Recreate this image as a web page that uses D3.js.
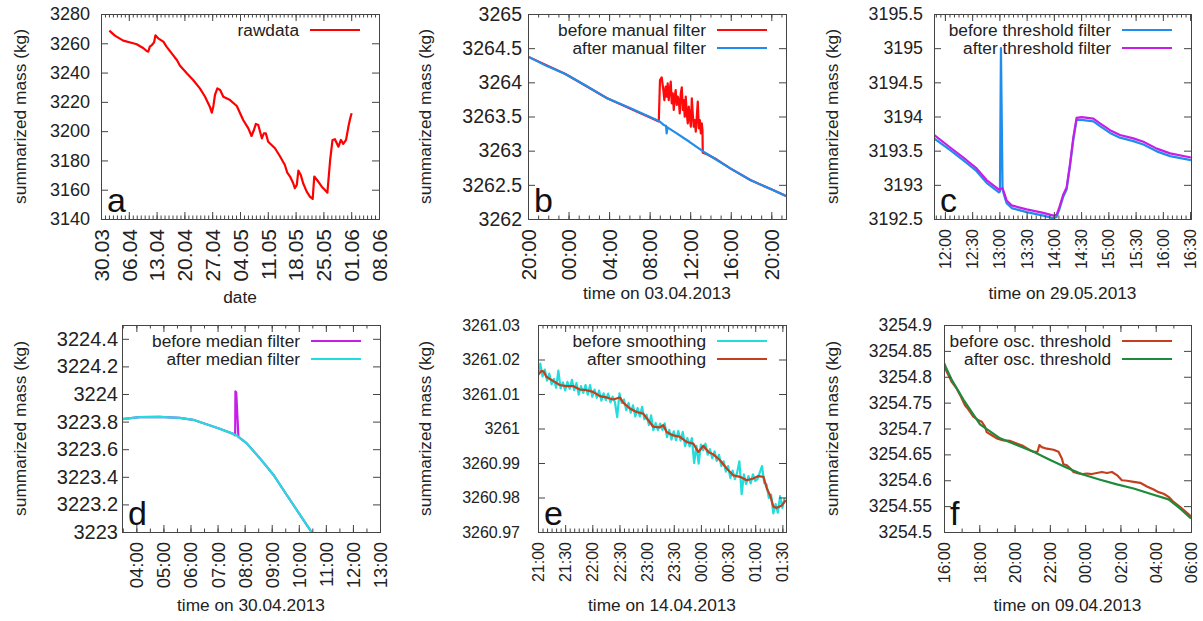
<!DOCTYPE html>
<html>
<head>
<meta charset="utf-8">
<script src="https://cdn.jsdelivr.net/npm/d3@7"></script>
<style>
  body { margin: 0; background: #fff; }
  svg text { font-family: "Liberation Sans", Arial, sans-serif; fill: #222; }
</style>
</head>
<body>
<svg id="chart" width="1203" height="621"></svg>
<script>
// ---------- panel a: raw data (days since 30.03.2013) ----------
const rawDays = [2.1, 3.5, 5.6, 8.1, 9.0, 10.7, 11.5, 11.9, 12.3, 12.8, 13.2, 13.4, 13.7, 14.4, 15.7, 16.5,
  17.8, 19.1, 19.9, 21.6, 23.2, 24.9, 26.2, 27.4, 27.9, 28.3, 28.7, 29.3, 30.0, 30.8, 32.5, 34.2, 35.8,
  37.1, 37.9, 38.5, 39.0, 39.6, 40.5, 41.0, 41.5, 42.1, 43.8, 45.1, 46.3, 46.9, 47.6, 48.4, 48.8, 49.3,
  49.7, 50.3, 50.9, 51.8, 52.6, 53.3, 53.7, 54.7, 55.6, 56.4, 57.0, 57.7, 58.3, 58.9, 59.8, 60.4, 61.0,
  61.7, 62.3, 62.7, 63.1];
const rawMass = [3268.6, 3265.2, 3261.8, 3260.0, 3259.3, 3256.6, 3254.7, 3254.3, 3257.7, 3258.8, 3260.0,
  3261.1, 3265.4, 3263.4, 3261.1, 3257.7, 3253.1, 3248.6, 3244.7, 3239.5, 3234.9, 3229.2, 3223.5, 3216.7,
  3212.6, 3217.2, 3224.7, 3229.2, 3228.1, 3223.5, 3221.2, 3217.2, 3207.6, 3201.9, 3196.7, 3200.8, 3204.9,
  3204.2, 3195.1, 3198.5, 3198.5, 3192.8, 3188.3, 3182.7, 3176.9, 3171.7, 3169.0, 3164.4, 3161.0, 3163.3,
  3173.1, 3170.1, 3164.4, 3158.7, 3155.3, 3153.7, 3169.0, 3165.6, 3162.1, 3159.8, 3158.0, 3180.3, 3194.0,
  3194.5, 3189.4, 3194.0, 3191.3, 3194.0, 3203.1, 3208.1, 3212.2];
const aTicks = [0, 7, 14, 21, 28, 35, 42, 49, 56, 63, 70];
const aLabels = ['30.03', '06.04', '13.04', '20.04', '27.04', '04.05', '11.05', '18.05', '25.05', '01.06', '08.06'];
const aYTicks = [3140, 3160, 3180, 3200, 3220, 3240, 3260, 3280];

// ---------- panel b: manual filter (hours since 20:00 on 02.04.) ----------
const beforeManualT = [0, 3.69, 7.81, 11.87, 12.9, 13.02, 13.19, 13.35, 13.45, 13.58, 13.68, 13.78, 13.88,
  13.98, 14.08, 14.18, 14.28, 14.38, 14.47, 14.57, 14.67, 14.77, 14.87, 14.97, 15.07, 15.17, 15.27, 15.36,
  15.46, 15.56, 15.66, 15.76, 15.86, 15.96, 16.06, 16.16, 16.25, 16.35, 16.45, 16.55, 16.65, 16.75, 16.85,
  16.95, 17.05, 17.14, 17.21, 17.24, 17.6, 18.63, 19.95, 21.93, 24.0, 25.45];
const beforeManualV = [3264.376, 3264.122, 3263.766, 3263.498, 3263.428, 3264.034, 3264.073, 3263.888,
  3263.741, 3263.937, 3263.790, 3263.985, 3263.741, 3263.888, 3264.010, 3263.693, 3263.839, 3263.595,
  3263.790, 3263.888, 3263.668, 3263.790, 3263.741, 3263.546, 3263.839, 3263.927, 3263.595, 3263.741,
  3263.498, 3263.790, 3263.546, 3263.400, 3263.644, 3263.498, 3263.351, 3263.766, 3263.546, 3263.351,
  3263.449, 3263.278, 3263.498, 3263.717, 3263.327, 3263.449, 3263.254, 3263.400, 3263.302, 3262.971,
  3262.950, 3262.870, 3262.741, 3262.571, 3262.434, 3262.337];
const afterManualT = [0, 1.81, 3.69, 5.77, 7.81, 10.06, 11.87, 12.96, 13.35, 13.62, 13.68, 13.75, 14.67,
  15.92, 17.31, 18.63, 19.95, 21.93, 24.0, 25.45];
const afterManualV = [3264.376, 3264.244, 3264.122, 3263.946, 3263.766, 3263.625, 3263.505, 3263.430,
  3263.380, 3263.362, 3263.254, 3263.340, 3263.254, 3263.130, 3262.985, 3262.863, 3262.741, 3262.571,
  3262.434, 3262.337];
const bTicks = [0, 4, 8, 12, 16, 20, 24];
const bLabels = ['20:00', '00:00', '04:00', '08:00', '12:00', '16:00', '20:00'];
const bYTicks = [3262, 3262.5, 3263, 3263.5, 3264, 3264.5, 3265];

// ---------- panel c: threshold filter (minutes since 12:00 on 29.05.) ----------
const beforeThrT = [-12, 5.5, 23.9, 34.9, 45.9, 59.5, 60.6, 61.7, 63.5, 66.1, 68, 73.5, 90, 108.4, 119.4,
  123, 126, 130.4, 134, 137.7, 141.4, 145, 150.6, 163.5, 170.8, 181.8, 192.8, 207.5, 218.6, 233.3, 248, 271];
const beforeThrV = [3193.68, 3193.51, 3193.32, 3193.20, 3193.03, 3192.89, 3192.90, 3195.00, 3192.93,
  3192.81, 3192.73, 3192.66, 3192.60, 3192.55, 3192.51, 3192.53, 3192.64, 3192.83, 3192.93, 3193.27,
  3193.66, 3193.95, 3193.95, 3193.93, 3193.86, 3193.76, 3193.69, 3193.64, 3193.59, 3193.49, 3193.42, 3193.36];
const afterThrT = [-12, 5.5, 23.9, 34.9, 45.9, 59.5, 63.5, 66.1, 68, 73.5, 90, 108.4, 119.4, 123, 126,
  130.4, 134, 137.7, 141.4, 145, 150.6, 163.5, 170.8, 181.8, 192.8, 207.5, 218.6, 233.3, 248, 271];
const afterThrV = [3193.73, 3193.55, 3193.36, 3193.24, 3193.07, 3192.93, 3192.95, 3192.85, 3192.77,
  3192.70, 3192.64, 3192.59, 3192.55, 3192.56, 3192.67, 3192.86, 3192.96, 3193.30, 3193.69, 3193.98,
  3193.99, 3193.97, 3193.90, 3193.80, 3193.73, 3193.68, 3193.63, 3193.53, 3193.46, 3193.40];
const cTicks = [0, 30, 60, 90, 120, 150, 180, 210, 240, 270];
const cLabels = ['12:00', '12:30', '13:00', '13:30', '14:00', '14:30', '15:00', '15:30', '16:00', '16:30'];
const cYTicks = [3192.5, 3193, 3193.5, 3194, 3194.5, 3195, 3195.5];

// ---------- panel d: median filter (hours on 30.04.) ----------
const beforeMedT = [3.47, 4.12, 4.86, 5.6, 6.1, 6.59, 7.08, 7.58, 7.65, 7.66, 7.69, 7.77, 8.07, 8.56, 9.06,
  9.55, 10.04, 10.47];
const beforeMedV = [3223.818, 3223.832, 3223.834, 3223.827, 3223.813, 3223.781, 3223.748, 3223.711,
  3223.700, 3224.020, 3224.010, 3223.690, 3223.644, 3223.535, 3223.415, 3223.270, 3223.126, 3223.000];
const afterMedT = [3.47, 4.12, 4.86, 5.6, 6.1, 6.59, 7.08, 7.58, 7.72, 8.07, 8.56, 9.06, 9.55, 10.04, 10.47];
const afterMedV = [3223.818, 3223.832, 3223.834, 3223.827, 3223.813, 3223.781, 3223.748, 3223.711,
  3223.697, 3223.644, 3223.535, 3223.415, 3223.270, 3223.126, 3223.000];
const dTicks = [4, 5, 6, 7, 8, 9, 10, 11, 12, 13];
const dLabels = ['04:00', '05:00', '06:00', '07:00', '08:00', '09:00', '10:00', '11:00', '12:00', '13:00'];
const dYTicks = [3223, 3223.2, 3223.4, 3223.6, 3223.8, 3224, 3224.2, 3224.4];

// ---------- panel e: smoothing (minutes since 21:00 on 14.04.) ----------
const beforeSmoothT = [0, 2.5, 5, 7.5, 10, 12.5, 15, 17.5, 20, 22.5, 25, 27.5, 30, 32.5, 35, 37.5, 40,
  42.5, 45, 47.5, 50, 52.5, 55, 57.5, 60, 62.5, 65, 67.5, 70, 72.5, 75, 77.5, 80, 82.5, 85, 87.5, 90, 92.5,
  95, 97.5, 100, 102.5, 105, 107.5, 110, 112.5, 115, 117.5, 120, 122.5, 125, 127.5, 130, 132.5, 135, 137.5,
  140, 142.5, 145, 147.5, 150, 152.5, 155, 157.5, 160, 162.5, 165, 167.5, 170, 172.5, 175, 177.5, 180,
  182.5, 185, 187.5, 190, 192.5, 195, 197.5, 200, 202.5, 205, 207.5, 210, 212.5, 215, 217.5, 220, 222.5,
  225, 227.5, 230, 232.5, 235, 237.5, 240, 242.5, 245, 247.5, 250, 252.5, 255, 257.5, 260, 262.5, 265,
  267.5, 270, 272.5];
const beforeSmoothV = [3261.0160, 3261.0188, 3261.0151, 3261.0171, 3261.0139, 3261.0159, 3261.0128,
  3261.0144, 3261.0118, 3261.0168, 3261.0116, 3261.0134, 3261.0110, 3261.0135, 3261.0115, 3261.0141,
  3261.0111, 3261.0132, 3261.0098, 3261.0123, 3261.0103, 3261.0126, 3261.0098, 3261.0126, 3261.0092,
  3261.0113, 3261.0089, 3261.0110, 3261.0081, 3261.0102, 3261.0082, 3261.0101, 3261.0076, 3261.0092,
  3261.0076, 3261.0033, 3261.0102, 3261.0074, 3261.0084, 3261.0053, 3261.0074, 3261.0046, 3261.0067,
  3261.0035, 3261.0059, 3261.0035, 3261.0063, 3261.0027, 3261.0040, 3261.0010, 3261.0038, 3260.9995,
  3261.0016, 3260.9995, 3261.0014, 3260.9996, 3261.0015, 3260.9975, 3260.9996, 3260.9968, 3260.9992,
  3260.9966, 3260.9993, 3260.9965, 3260.9990, 3260.9949, 3260.9972, 3260.9948, 3260.9972, 3260.9900,
  3260.9950, 3260.9898, 3260.9953, 3260.9937, 3260.9956, 3260.9924, 3260.9940, 3260.9914, 3260.9934,
  3260.9906, 3260.9924, 3260.9891, 3260.9905, 3260.9875, 3260.9891, 3260.9857, 3260.9878, 3260.9853,
  3260.9872, 3260.9905, 3260.9810, 3260.9867, 3260.9839, 3260.9862, 3260.9841, 3260.9867, 3260.9848,
  3260.9853, 3260.9872, 3260.9891, 3260.9842, 3260.9838, 3260.9799, 3260.9808, 3260.9754, 3260.9781,
  3260.9756, 3260.9804, 3260.9770, 3260.9800];
const afterSmoothT = [0, 3.7, 6.3, 9.2, 16.6, 24, 31.4, 38.7, 46.1, 53.5, 60.9, 68.3, 75.6, 83, 90.4, 94.1,
  101.5, 108.9, 116.2, 121.8, 127.3, 134.7, 138.4, 142.1, 149.4, 156.8, 164.2, 171.6, 177.1, 182.7, 188.2,
  193.7, 201.1, 208.5, 215.9, 223.2, 230.6, 238, 243.5, 249.1, 252.8, 256.5, 260.1, 263.8, 269.4, 273.8];
const afterSmoothV = [3261.0155, 3261.0167, 3261.0165, 3261.0150, 3261.0138, 3261.0126, 3261.0123,
  3261.0123, 3261.0113, 3261.0111, 3261.0106, 3261.0094, 3261.0090, 3261.0084, 3261.0090, 3261.0075,
  3261.0058, 3261.0048, 3261.0043, 3261.0024, 3261.0005, 3261.0003, 3261.0010, 3260.9990, 3260.9980,
  3260.9976, 3260.9961, 3260.9956, 3260.9932, 3260.9950, 3260.9932, 3260.9925, 3260.9908, 3260.9884,
  3260.9864, 3260.9860, 3260.9850, 3260.9855, 3260.9862, 3260.9860, 3260.9826, 3260.9806, 3260.9773,
  3260.9770, 3260.9777, 3260.9792];
const eTicks = [0, 30, 60, 90, 120, 150, 180, 210, 240, 270];
const eLabels = ['21:00', '21:30', '22:00', '22:30', '23:00', '23:30', '00:00', '00:30', '01:00', '01:30'];
const eYTicks = [3260.97, 3260.98, 3260.99, 3261, 3261.01, 3261.02, 3261.03];

// ---------- panel f: oscillation threshold (hours since 16:00 on 09.04.) ----------
const beforeOscT = [0, 0.15, 0.44, 0.72, 0.91, 1.19, 1.38, 1.66, 1.95, 2.14, 2.33, 2.42, 2.71, 2.99, 3.37,
  3.75, 4.12, 4.50, 4.88, 5.07, 5.30, 5.41, 5.54, 5.83, 6.21, 6.49, 6.68, 6.77, 6.96, 7.15, 7.34, 7.62, 7.87,
  8.10, 8.38, 8.66, 8.95, 9.23, 9.52, 9.80, 10.08, 10.37, 10.75, 11.12, 11.50, 11.88, 12.16, 12.45, 12.73,
  13.01, 13.39, 13.77, 14.0];
const beforeOscV = [3254.826, 3254.810, 3254.790, 3254.777, 3254.765, 3254.745, 3254.737, 3254.723,
  3254.716, 3254.713, 3254.703, 3254.693, 3254.687, 3254.681, 3254.677, 3254.676, 3254.671, 3254.666,
  3254.658, 3254.655, 3254.655, 3254.668, 3254.664, 3254.661, 3254.659, 3254.655, 3254.642, 3254.631,
  3254.629, 3254.623, 3254.616, 3254.613, 3254.612, 3254.613, 3254.612, 3254.614, 3254.616, 3254.614,
  3254.616, 3254.610, 3254.600, 3254.599, 3254.597, 3254.595, 3254.588, 3254.582, 3254.577, 3254.574,
  3254.568, 3254.558, 3254.548, 3254.537, 3254.530];
const afterOscT = [0, 0.44, 1.10, 2.04, 3.18, 4.12, 5.07, 6.02, 6.96, 7.87, 8.85, 9.80, 10.75, 11.69, 12.73,
  13.39, 14.0];
const afterOscV = [3254.826, 3254.794, 3254.756, 3254.708, 3254.681, 3254.668, 3254.655, 3254.639,
  3254.624, 3254.611, 3254.601, 3254.592, 3254.584, 3254.574, 3254.563, 3254.545, 3254.526];
const fTicks = [0, 2, 4, 6, 8, 10, 12, 14];
const fLabels = ['16:00', '18:00', '20:00', '22:00', '00:00', '02:00', '04:00', '06:00'];
const fYTicks = [3254.5, 3254.55, 3254.6, 3254.65, 3254.7, 3254.75, 3254.8, 3254.85, 3254.9];

// ---------- layout ----------
const svg = d3.select('#chart');
const FONT = 17.3;

// xFont / yFont: tick label sizes differ a little between the panels of the reference
const panels = [
  { id: 'a', left: 101, right: 379, top: 14, bottom: 219, xDomain: [0, 70], yDomain: [3140, 3280],
    xTicks: aTicks, xLabels: aLabels, xMinorStep: 1, yTicks: aYTicks, yFmt: d3.format('d'), yPad: 11,
    xFont: 21, yFont: 18, xTitle: 'date', xTitleY: 303, yTitleX: 20,
    series: [{ t: rawDays, v: rawMass, color: '#ff0000', name: 'rawdata' }] },
  { id: 'b', left: 528, right: 786, top: 14, bottom: 219, xDomain: [0, 25.45], yDomain: [3262, 3265],
    xTicks: bTicks, xLabels: bLabels, xMinorStep: 1, yTicks: bYTicks, yFmt: d3.format('.1~f'), yPad: 6,
    xFont: 20.5, yFont: 19.5, xTitle: 'time on 03.04.2013', xTitleY: 299, yTitleX: 425,
    series: [{ t: beforeManualT, v: beforeManualV, color: '#ff0a0a', name: 'before manual filter' },
             { t: afterManualT, v: afterManualV, color: '#1f8ded', name: 'after manual filter' }] },
  { id: 'c', left: 934, right: 1191, top: 14, bottom: 219, xDomain: [-12, 271], yDomain: [3192.5, 3195.5],
    xTicks: cTicks, xLabels: cLabels, xMinorStep: 5, yTicks: cYTicks, yFmt: d3.format('.1~f'), yPad: 11,
    xFont: 16, yFont: 17.8, xTitle: 'time on 29.05.2013', xTitleY: 299, yTitleX: 832,
    series: [{ t: beforeThrT, v: beforeThrV, color: '#1f8ded', name: 'before threshold filter' },
             { t: afterThrT, v: afterThrV, color: '#c61ee8', name: 'after threshold filter' }] },
  { id: 'd', left: 122, right: 380, top: 325, bottom: 532, xDomain: [3.47, 13.0], yDomain: [3223, 3224.5],
    xTicks: dTicks, xLabels: dLabels, xMinorStep: 0.5, yTicks: dYTicks, yFmt: d3.format('.1~f'), yPad: 4,
    xFont: 18.5, yFont: 20, xTitle: 'time on 30.04.2013', xTitleY: 611, yTitleX: 20,
    series: [{ t: beforeMedT, v: beforeMedV, color: '#c61ee8', name: 'before median filter' },
             { t: afterMedT, v: afterMedV, color: '#22dddd', name: 'after median filter' }] },
  { id: 'e', left: 538, right: 786, top: 325, bottom: 532, xDomain: [0, 274], yDomain: [3260.97, 3261.03],
    xTicks: eTicks, xLabels: eLabels, xMinorStep: 5, yTicks: eYTicks, yFmt: d3.format('.2~f'), yPad: 18,
    xFont: 16, yFont: 16, xTitle: 'time on 14.04.2013', xTitleY: 611, yTitleX: 425,
    series: [{ t: beforeSmoothT, v: beforeSmoothV, color: '#22dddd', name: 'before smoothing' },
             { t: afterSmoothT, v: afterSmoothV, color: '#c4401c', name: 'after smoothing' }] },
  { id: 'f', left: 944, right: 1191, top: 325, bottom: 532, xDomain: [0, 14], yDomain: [3254.5, 3254.9],
    xTicks: fTicks, xLabels: fLabels, xMinorStep: 1, yTicks: fYTicks, yFmt: d3.format('.2~f'), yPad: 12,
    xFont: 16.5, yFont: 17.5, xTitle: 'time on 09.04.2013', xTitleY: 611, yTitleX: 832,
    series: [{ t: beforeOscT, v: beforeOscV, color: '#c4401c', name: 'before osc. threshold' },
             { t: afterOscT, v: afterOscV, color: '#1e8a3c', name: 'after osc. threshold' }] }
];

function styleAxis(sel, size) {
  sel.attr('font-size', size || FONT)
    .attr('font-family', '"Liberation Sans", Arial, sans-serif')
    .attr('color', '#444');
  sel.select('.domain').remove();
}

function drawPanel(p) {
  const g = svg.append('g').attr('class', 'panel-' + p.id);
  const x = d3.scaleLinear().domain(p.xDomain).range([p.left, p.right]);
  const y = d3.scaleLinear().domain(p.yDomain).range([p.bottom, p.top]);

  // clip lines to the plot box
  svg.append('clipPath').attr('id', 'clip-' + p.id)
    .append('rect')
    .attr('x', p.left).attr('y', p.top)
    .attr('width', p.right - p.left).attr('height', p.bottom - p.top);

  const line = d3.line().x(d => x(d[0])).y(d => y(d[1]));
  p.series.forEach(s => {
    g.append('path')
      .datum(s.t.map((t, i) => [t, s.v[i]]))
      .attr('clip-path', `url(#clip-${p.id})`)
      .attr('fill', 'none')
      .attr('stroke', s.color)
      .attr('stroke-width', 2.2)
      .attr('stroke-linejoin', 'round')
      .attr('d', line);
  });

  // minor ticks, bottom and top
  const minor = d3.range(Math.ceil(p.xDomain[0] / p.xMinorStep) * p.xMinorStep, p.xDomain[1] + 1e-9, p.xMinorStep);
  g.append('g').attr('transform', `translate(0,${p.bottom})`)
    .call(d3.axisBottom(x).tickValues(minor).tickSize(-3.5).tickFormat(''))
    .call(styleAxis);
  g.append('g').attr('transform', `translate(0,${p.top})`)
    .call(d3.axisTop(x).tickValues(minor).tickSize(-3.5).tickFormat(''))
    .call(styleAxis);

  // major x ticks with rotated labels
  const xb = g.append('g').attr('transform', `translate(0,${p.bottom})`)
    .call(d3.axisBottom(x).tickValues(p.xTicks).tickFormat((d, i) => p.xLabels[i])
      .tickSizeInner(-7).tickSizeOuter(0).tickPadding(0))
    .call(styleAxis, p.xFont);
  xb.selectAll('text')
    .attr('transform', 'rotate(-90)')
    .attr('x', -10).attr('y', 0).attr('dy', '0.35em')
    .style('text-anchor', 'end');
  g.append('g').attr('transform', `translate(0,${p.top})`)
    .call(d3.axisTop(x).tickValues(p.xTicks).tickSizeInner(-7).tickSizeOuter(0).tickFormat(''))
    .call(styleAxis);

  // y ticks left (labelled) and right (mirror)
  g.append('g').attr('transform', `translate(${p.left},0)`)
    .call(d3.axisLeft(y).tickValues(p.yTicks).tickFormat(p.yFmt)
      .tickSizeInner(-7).tickSizeOuter(0).tickPadding(p.yPad))
    .call(styleAxis, p.yFont);
  g.append('g').attr('transform', `translate(${p.right},0)`)
    .call(d3.axisRight(y).tickValues(p.yTicks).tickSizeInner(-7).tickSizeOuter(0).tickFormat(''))
    .call(styleAxis);

  // frame
  g.append('rect')
    .attr('x', p.left + 0.5).attr('y', p.top + 0.5)
    .attr('width', p.right - p.left).attr('height', p.bottom - p.top)
    .attr('fill', 'none').attr('stroke', '#444').attr('stroke-width', 1);

  // legend
  p.series.forEach((s, i) => {
    const ly = p.top + 16 + 18 * i;
    g.append('text')
      .attr('x', p.right - 80).attr('y', ly).attr('dy', '0.35em')
      .attr('text-anchor', 'end').attr('font-size', FONT)
      .text(s.name);
    g.append('line')
      .attr('x1', p.right - 69).attr('x2', p.right - 19)
      .attr('y1', ly).attr('y2', ly)
      .attr('stroke', s.color).attr('stroke-width', 2.2);
  });

  // panel letter
  g.append('text')
    .attr('x', p.left + 6).attr('y', p.bottom - 7)
    .attr('font-size', 34)
    .style('fill', '#111')
    .text(p.id);

  // axis titles
  g.append('text')
    .attr('x', (p.left + p.right) / 2)
    .attr('y', p.xTitleY)
    .attr('text-anchor', 'middle').attr('font-size', FONT)
    .text(p.xTitle);
  g.append('text')
    .attr('transform', `translate(${p.yTitleX},${(p.top + p.bottom) / 2}) rotate(-90)`)
    .attr('dy', '0.35em')
    .attr('text-anchor', 'middle').attr('font-size', FONT)
    .text('summarized mass (kg)');
}

panels.forEach(drawPanel);
</script>
</body>
</html>
